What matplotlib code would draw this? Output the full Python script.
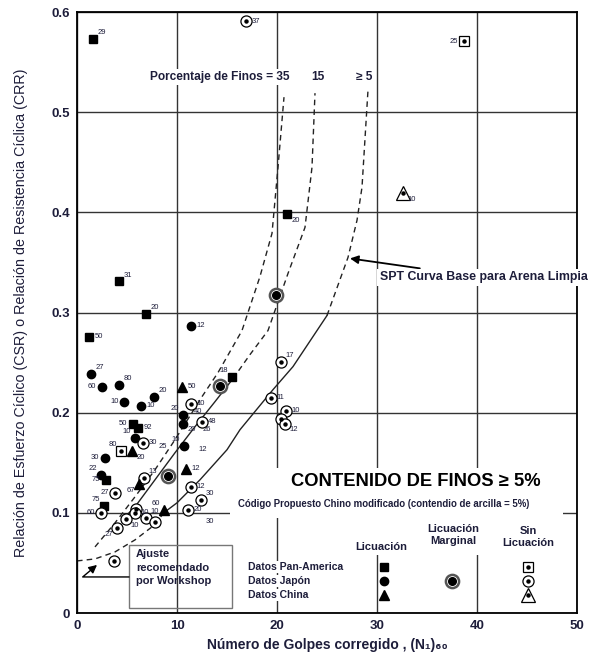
import numpy as np
import matplotlib
matplotlib.use("Agg")
from matplotlib import pyplot as plt
from matplotlib.patches import Rectangle

plt.rcParams['font.family'] = ['Liberation Sans', 'DejaVu Sans']
plt.rcParams['font.weight'] = 'bold'

INK = '#1d1d3a'

# ---- case histories: (N1)60, CSR, fines content label, label side ----
# Pan-America, liquefaction
pa_liq_n = [1.6, 4.2, 6.9, 1.2, 21.0, 15.5, 5.6, 6.1, 2.9, 2.7]
pa_liq_csr = [0.573, 0.331, 0.299, 0.276, 0.398, 0.236, 0.189, 0.185, 0.133, 0.107]
pa_liq_lab = ['29', '31', '20', '50', '20', '18', '50', '92', '75', '75']
pa_liq_side = ['ur', 'ur', 'ur', 'r', 'dr', 'ul', 'l', 'r', 'l', 'ul']

# Pan-America, no liquefaction
pa_no_n = [38.7, 4.4]
pa_no_csr = [0.571, 0.162]
pa_no_lab = ['25', '80']
pa_no_side = ['l', 'ul']

# Japan, liquefaction
jp_liq_n = [11.4, 1.4, 2.5, 4.2, 7.7, 4.7, 6.4, 10.6, 10.6, 5.8, 10.7, 2.8, 2.4]
jp_liq_csr = [0.287, 0.239, 0.226, 0.228, 0.216, 0.211, 0.207, 0.198, 0.189,
              0.175, 0.167, 0.155, 0.138]
jp_liq_lab = ['12', '27', '60', '80', '20', '10', '10', '20', '20', '10', '10', '30', '22']
jp_liq_side = ['r', 'ur', 'l', 'ur', 'ur', 'l', 'r', 'ul', 'dr', 'ul', 'ul', 'l', 'ul']

# Japan, marginal liquefaction
jp_marg_n = [19.9, 14.3, 9.1]
jp_marg_csr = [0.317, 0.227, 0.137]

# Japan, no liquefaction
jp_no_n = [16.9, 20.4, 11.4, 12.5, 19.4, 20.9, 20.4, 20.8, 6.6, 6.7, 3.8, 11.4,
           12.4, 11.1, 2.4, 5.9, 5.8, 4.9, 6.9, 7.8, 4.0, 3.7]
jp_no_csr = [0.591, 0.251, 0.209, 0.191, 0.215, 0.202, 0.194, 0.189, 0.170, 0.135,
             0.120, 0.126, 0.113, 0.103, 0.100, 0.104, 0.100, 0.094, 0.095, 0.091,
             0.085, 0.052]
jp_no_lab = ['37', '17', '10', '48', '11', '10', '', '12', '30', '13', '27', '12',
             '30', '20', '60', '', '10', '10', '10', '', '27', '']
jp_no_side = ['r', 'ur', 'r', 'r', 'r', 'r', 'r', 'dr', 'r', 'ur', 'l', 'r',
              'ur', 'r', 'l', 'r', 'r', 'dr', 'ur', 'r', 'dl', 'r']

# China, liquefaction
cn_liq_n = [10.5, 5.5, 10.9, 6.2, 8.7]
cn_liq_csr = [0.226, 0.162, 0.144, 0.129, 0.103]
cn_liq_lab = ['50', '20', '12', '67', '60']
cn_liq_side = ['r', 'dr', 'r', 'dl', 'ul']

# China, no liquefaction
cn_no_n = [32.6]
cn_no_csr = [0.419]
cn_no_lab = ['10']
cn_no_side = ['dr']

# loose fines labels whose points are hidden under others
extra_lab = ['40', '26', '12', '25', '30']
extra_n = [12.1, 13.0, 12.6, 8.6, 13.3]
extra_csr = [0.201, 0.183, 0.163, 0.166, 0.091]

# ---- CRR curves ----
fc35_n = [1.8, 3.8, 5.8, 7.8, 9.8, 12.5, 14.1, 16.5, 18.3, 19.5, 20.1, 20.7]
fc35_csr = [0.066, 0.090, 0.116, 0.143, 0.173, 0.216, 0.240, 0.282, 0.336, 0.379,
            0.445, 0.515]

fc15_solid_n = [4.8, 5.8, 7.8, 9.8, 11.8, 13.8, 15.6]
fc15_solid_csr = [0.096, 0.106, 0.133, 0.160, 0.186, 0.211, 0.234]
fc15_dash_n = [15.6, 17.3, 19.1, 21.1, 22.8, 23.5, 23.8]
fc15_dash_csr = [0.234, 0.258, 0.282, 0.339, 0.385, 0.445, 0.519]

fc5_solid_n = [8.8, 10.0, 12.3, 15.0, 16.3, 19.6, 21.6, 24.0, 25.0]
fc5_solid_csr = [0.101, 0.110, 0.133, 0.163, 0.183, 0.223, 0.246, 0.282, 0.297]
fc5_dash_n = [25.0, 27.1, 28.0, 28.5, 29.1]
fc5_dash_csr = [0.297, 0.355, 0.392, 0.425, 0.522]

adj_n = [0.0, 1.8, 3.8, 5.8, 7.5, 8.8]
adj_csr = [0.052, 0.054, 0.061, 0.073, 0.086, 0.101]

SIDES = {'r': (4, 0, 'left', 'center'), 'l': (-4, 0, 'right', 'center'),
         'ur': (3, 2, 'left', 'bottom'), 'ul': (-3, 2, 'right', 'bottom'),
         'dr': (3, -2, 'left', 'top'), 'dl': (-3, -2, 'right', 'top')}


def draw_marks(ax, x, y, kind, tr=None):
    kw = {} if tr is None else {'transform': tr, 'clip_on': False}
    if kind == 'sq':
        ax.plot(x, y, 's', color='black', ms=6, ls='none', zorder=4, **kw)
    elif kind == 'ci':
        ax.plot(x, y, 'o', color='black', ms=6, ls='none', zorder=4, **kw)
    elif kind == 'tr':
        ax.plot(x, y, '^', color='black', ms=6.5, ls='none', zorder=4, **kw)
    elif kind == 'mg':
        ax.plot(x, y, 'o', mfc='white', mec='#555555', mew=1.8, ms=9.5, ls='none', zorder=4, **kw)
        ax.plot(x, y, 'o', color='black', ms=5.5, ls='none', zorder=5, **kw)
    else:
        m = {'sq0': ('s', 6.5), 'ci0': ('o', 8), 'tr0': ('^', 10)}[kind]
        ax.plot(x, y, m[0], mfc='white', mec='black', mew=0.9, ms=m[1], ls='none', zorder=4, **kw)
        ax.plot(x, y, 'o', color='black', ms=2.2, ls='none', zorder=5, **kw)


def draw_labels(ax, x, y, labs, sides):
    for xi, yi, lab, s in zip(x, y, labs, sides):
        if not lab:
            continue
        dx, dy, ha, va = SIDES[s]
        ax.annotate(lab, (xi, yi), xytext=(dx, dy), textcoords='offset points',
                    ha=ha, va=va, fontsize=5.5, fontweight='normal', color=INK, zorder=6)


fig = plt.figure(figsize=(5.96, 6.61), dpi=100)
ax = fig.add_axes([0.1292, 0.0726, 0.8389, 0.9092])
ax.set_xlim(0, 50)
ax.set_ylim(0, 0.6)
ax.set_xticks([0, 10, 20, 30, 40, 50])
ax.set_yticks([0, 0.1, 0.2, 0.3, 0.4, 0.5, 0.6])
ax.set_yticklabels(['0', '0.1', '0.2', '0.3', '0.4', '0.5', '0.6'])
ax.tick_params(length=0, labelsize=9.5, colors=INK, pad=5)
for lab in ax.get_xticklabels() + ax.get_yticklabels():
    lab.set_fontweight('bold')
for sp in ax.spines.values():
    sp.set_linewidth(1.3)
ax.set_axisbelow(True)
ax.grid(True, color='#333333', lw=1.0)

# white areas behind the fines-content heading and legend
ax.add_patch(Rectangle((15.3, 0.095), 33.3, 0.05, fc='white', ec='none', zorder=1))
ax.add_patch(Rectangle((26.3, 0.058), 22.3, 0.05, fc='white', ec='none', zorder=1))

# curves
ax.plot(fc35_n, fc35_csr, ls=(0, (4, 3)), color='#222222', lw=1.0, zorder=2)
ax.plot(fc15_solid_n, fc15_solid_csr, color='#222222', lw=1.0, zorder=2)
ax.plot(fc15_dash_n, fc15_dash_csr, ls=(0, (4, 3)), color='#222222', lw=1.0, zorder=2)
ax.plot(fc5_solid_n, fc5_solid_csr, color='#222222', lw=1.0, zorder=2)
ax.plot(fc5_dash_n, fc5_dash_csr, ls=(0, (4, 3)), color='#222222', lw=1.0, zorder=2)
ax.plot(adj_n, adj_csr, ls=(0, (4, 3)), color='#222222', lw=1.0, zorder=2)

# data
draw_marks(ax, pa_liq_n, pa_liq_csr, 'sq')
draw_labels(ax, pa_liq_n, pa_liq_csr, pa_liq_lab, pa_liq_side)
draw_marks(ax, pa_no_n, pa_no_csr, 'sq0')
draw_labels(ax, pa_no_n, pa_no_csr, pa_no_lab, pa_no_side)
draw_marks(ax, jp_liq_n, jp_liq_csr, 'ci')
draw_labels(ax, jp_liq_n, jp_liq_csr, jp_liq_lab, jp_liq_side)
draw_marks(ax, jp_marg_n, jp_marg_csr, 'mg')
draw_marks(ax, jp_no_n, jp_no_csr, 'ci0')
draw_labels(ax, jp_no_n, jp_no_csr, jp_no_lab, jp_no_side)
draw_marks(ax, cn_liq_n, cn_liq_csr, 'tr')
draw_labels(ax, cn_liq_n, cn_liq_csr, cn_liq_lab, cn_liq_side)
draw_marks(ax, cn_no_n, cn_no_csr, 'tr0')
draw_labels(ax, cn_no_n, cn_no_csr, cn_no_lab, cn_no_side)
for lab, xi, yi in zip(extra_lab, extra_n, extra_csr):
    ax.text(xi, yi, lab, fontsize=5.5, fontweight='normal', color=INK, ha='center', va='center')

# curve labels
wbox = dict(fc='white', ec='none', pad=1.5)
ax.text(21.3, 0.535, 'Porcentaje de Finos = 35', ha='right', va='center', fontsize=8.6,
        color=INK, bbox=wbox, zorder=6)
ax.text(24.1, 0.535, '15', ha='center', va='center', fontsize=8.6, color=INK, bbox=wbox, zorder=6)
ax.text(28.7, 0.535, '≥ 5', ha='center', va='center', fontsize=8.6, color=INK, bbox=wbox, zorder=6)

ax.annotate('SPT Curva Base para Arena Limpia', xy=(27.3, 0.354), xytext=(30.3, 0.335),
            ha='left', va='center', fontsize=8.9, color=INK, zorder=6, annotation_clip=False,
            bbox=dict(fc='white', ec='none', pad=2),
            arrowprops=dict(arrowstyle='-|>', color='black', lw=1.3, mutation_scale=12,
                            shrinkA=2, shrinkB=0))

ax.text(33.9, 0.131, 'CONTENIDO DE FINOS ≥ 5%', ha='center', va='center', fontsize=13.2,
        color='black', zorder=6)
ax.text(30.7, 0.109, 'Código Propuesto Chino modificado (contendio de arcilla = 5%)',
        ha='center', va='center', fontsize=6.9, color=INK, zorder=6)

# workshop adjustment box
ax.add_patch(Rectangle((5.2, 0.005), 10.3, 0.063, fc='none', ec='#777777', lw=1.0, zorder=3))
ax.text(5.9, 0.064, 'Ajuste\nrecomendado\npor Workshop', ha='left', va='top', fontsize=8,
        color=INK, linespacing=1.45, zorder=6)
ax.annotate('', xy=(2.0, 0.048), xytext=(5.2, 0.036),
            arrowprops=dict(arrowstyle='-|>', color='black', lw=1.0, mutation_scale=12,
                            shrinkA=0, shrinkB=0,
                            connectionstyle='angle,angleA=0,angleB=40,rad=0'))

# legend
ax.text(30.4, 0.066, 'Licuación', ha='center', va='center', fontsize=8, color=INK, zorder=6,
        bbox=dict(fc='white', ec='none', pad=1))
ax.text(37.6, 0.078, 'Licuación\nMarginal', ha='center', va='center', fontsize=8, color=INK,
        linespacing=1.3, zorder=6, bbox=dict(fc='white', ec='none', pad=1))
ax.text(45.1, 0.076, 'Sin\nLicuación', ha='center', va='center', fontsize=8, color=INK,
        linespacing=1.3, zorder=6, bbox=dict(fc='white', ec='none', pad=1))
for row, name in zip([0.0767, 0.0533, 0.0300],
                     ['Datos Pan-America', 'Datos Japón', 'Datos China']):
    ax.text(0.342, row, name, transform=ax.transAxes, ha='left', va='center', fontsize=7.5,
            color=INK, zorder=6, bbox=dict(fc='white', ec='none', pad=0.5))
draw_marks(ax, [0.614], [0.0767], 'sq', ax.transAxes)
draw_marks(ax, [0.614], [0.0533], 'ci', ax.transAxes)
draw_marks(ax, [0.614], [0.0300], 'tr', ax.transAxes)
draw_marks(ax, [0.750], [0.0533], 'mg', ax.transAxes)
draw_marks(ax, [0.902], [0.0767], 'sq0', ax.transAxes)
draw_marks(ax, [0.902], [0.0533], 'ci0', ax.transAxes)
draw_marks(ax, [0.902], [0.0300], 'tr0', ax.transAxes)

ax.set_xlabel('Número de Golpes corregido , (N₁)₆₀', fontsize=10, fontweight='bold',
              color=INK, labelpad=4)
ax.set_ylabel('Relación de Esfuerzo Cíclico (CSR) o Relación de Resistencia Cíclica (CRR)',
              fontsize=10.3, fontweight='normal', color=INK, labelpad=17)

plt.savefig('out.png', dpi=100)
